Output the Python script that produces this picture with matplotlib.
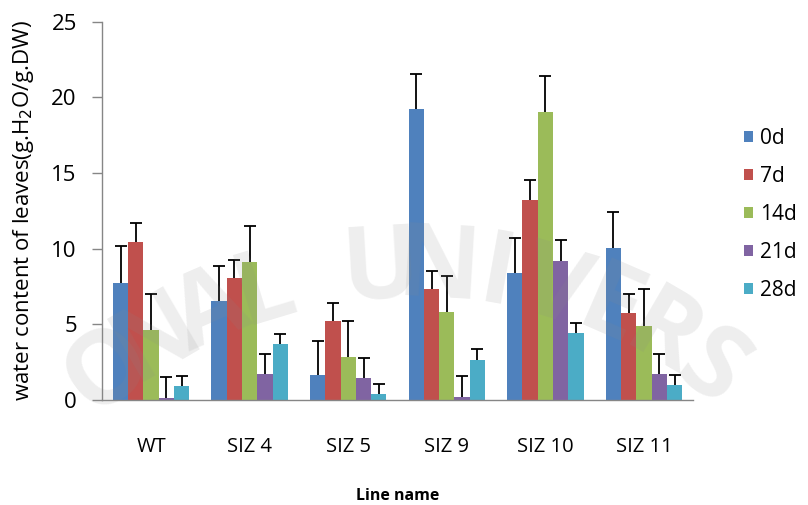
import matplotlib
matplotlib.use("Agg")
import matplotlib.pyplot as plt
import numpy as np

lines = ["WT", "SIZ 4", "SIZ 5", "SIZ 9", "SIZ 10", "SIZ 11"]
days = ["0d", "7d", "14d", "21d", "28d"]

# mean water content per line for each sampling day
mean_0d = [7.75, 6.54, 1.63, 19.21, 8.37, 10.07]
mean_7d = [10.42, 8.08, 5.24, 7.36, 13.22, 5.73]
mean_14d = [4.63, 9.14, 2.82, 5.82, 19.06, 4.92]
mean_21d = [0.15, 1.72, 1.45, 0.22, 9.21, 1.70]
mean_28d = [0.90, 3.72, 0.40, 2.64, 4.45, 0.97]

# upper error bar (standard deviation)
err_0d = [2.41, 2.34, 2.29, 2.32, 2.36, 2.33]
err_7d = [1.26, 1.17, 1.19, 1.17, 1.30, 1.27]
err_14d = [2.36, 2.38, 2.40, 2.38, 2.38, 2.42]
err_21d = [1.39, 1.34, 1.35, 1.39, 1.34, 1.36]
err_28d = [0.71, 0.62, 0.64, 0.73, 0.62, 0.70]

means = [mean_0d, mean_7d, mean_14d, mean_21d, mean_28d]
errs = [err_0d, err_7d, err_14d, err_21d, err_28d]
colors = ["#4F81BD", "#C0504D", "#9BBB59", "#8064A2", "#4BACC6"]

watermark = "ONAL UNIVERS"

plt.rcParams["font.family"] = ["Open Sans", "DejaVu Sans"]

W, H = 808, 505
fig = plt.figure(figsize=(W / 100, H / 100), dpi=100)
ax = fig.add_axes([0.126, 0.208, 0.732, 0.749])

x = np.arange(len(lines))
width = 0.155
for i, (m, e, c, d) in enumerate(zip(means, errs, colors, days)):
    pos = x + (i - 2) * width
    m = np.asarray(m)
    ax.bar(pos, m, width=width, color=c, label=d, zorder=2)
    eb = ax.errorbar(pos, m, yerr=[np.zeros(len(e)), e], fmt="none",
                     ecolor="black", elinewidth=1.3, capsize=4, capthick=1.3,
                     zorder=3)
    # keep only the cap at the top of each error bar
    for cap in eb[1]:
        if np.allclose(cap.get_ydata(), m):
            cap.set_visible(False)

ax.set_xlim(-0.5, len(lines) - 0.5)
ax.set_ylim(0, 25)
ax.set_yticks(np.arange(0, 26, 5))
ax.set_xticks(x)
ax.set_xticklabels(lines, fontsize=14.5)
ax.tick_params(axis="y", labelsize=16, length=7, width=1, color="#868686", pad=11)
ax.tick_params(axis="x", length=0, pad=27)

for side in ["top", "right"]:
    ax.spines[side].set_visible(False)
for side in ["left", "bottom"]:
    ax.spines[side].set_color("#868686")
    ax.spines[side].set_linewidth(1)

ax.set_ylabel("water content of leaves(g.H$_2$O/g.DW)", fontsize=16, labelpad=11)
ax.set_xlabel("Line name", fontsize=11.5, fontweight="bold", labelpad=22)

leg = ax.legend(loc="center left", bbox_to_anchor=(1.085, 0.49), frameon=False,
                fontsize=15, handlelength=0.45, handleheight=0.45,
                handletextpad=0.35, labelspacing=0.82,
                borderaxespad=0, borderpad=0)

# faint arched watermark lettering laid over the plot
cx, cy, r = 410, -265, 500
angles = np.linspace(127, 53, len(watermark))
for ch, a in zip(watermark, angles):
    if ch == " ":
        continue
    t = np.deg2rad(a)
    fig.text((cx + r * np.cos(t)) / W, (cy + r * np.sin(t)) / H, ch,
             fontsize=74, fontweight="bold", color="#8a8a8a", alpha=0.14,
             rotation=a - 90, ha="center", va="center", zorder=10)

fig.savefig("out.png", dpi=100)
